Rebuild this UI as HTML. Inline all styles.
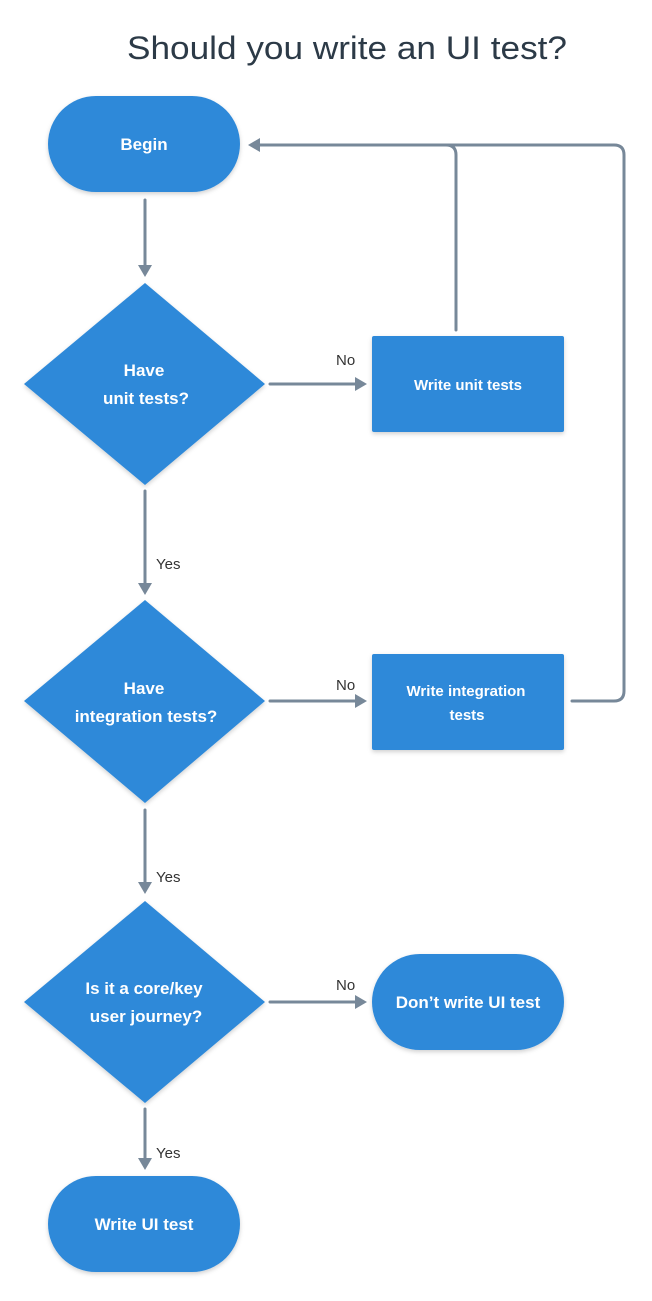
<!DOCTYPE html>
<html><head><meta charset="utf-8"><style>
html,body{margin:0;padding:0;background:#fff;}
svg text{font-family:"Liberation Sans",sans-serif;}
</style></head><body>
<svg width="652" height="1296" viewBox="0 0 652 1296" xmlns="http://www.w3.org/2000/svg">
<defs>
<filter id="sh" x="-10%" y="-10%" width="120%" height="130%"><feDropShadow dx="0" dy="2" stdDeviation="2" flood-color="#000" flood-opacity="0.18"/></filter>
</defs>
<text x="127" y="59" textLength="440" lengthAdjust="spacingAndGlyphs" font-size="32" fill="#2c3a47">Should you write  an UI test?</text>

<g fill="none" stroke="#778899" stroke-width="3" stroke-linecap="round">
<line x1="145" y1="200" x2="145" y2="266"/>
<line x1="270" y1="384" x2="356" y2="384"/>
<line x1="145" y1="491" x2="145" y2="584"/>
<line x1="270" y1="701" x2="356" y2="701"/>
<line x1="145" y1="810" x2="145" y2="883"/>
<line x1="270" y1="1002" x2="356" y2="1002"/>
<line x1="145" y1="1109" x2="145" y2="1159"/>
<path d="M456 330 V155 Q456 145 446 145 H260"/>
<path d="M572 701 H614 Q624 701 624 691 V155 Q624 145 614 145 H446"/>
</g>
<g fill="#778899">
<polygon points="138,265 152,265 145,277"/>
<polygon points="138,583 152,583 145,595"/>
<polygon points="138,882 152,882 145,894"/>
<polygon points="138,1158 152,1158 145,1170"/>
<polygon points="355,377 355,391 367,384"/>
<polygon points="355,694 355,708 367,701"/>
<polygon points="355,995 355,1009 367,1002"/>
<polygon points="260,138 260,152 248,145"/>
</g>

<g fill="#2e89d9" filter="url(#sh)">
<rect x="48" y="96" width="192" height="96" rx="48"/>
<polygon points="145,283 265,384 145,485 24,384"/>
<rect x="372" y="336" width="192" height="96" rx="2"/>
<polygon points="145,600 265,701 145,803 24,701"/>
<rect x="372" y="654" width="192" height="96" rx="2"/>
<polygon points="145,901 265,1002 145,1103 24,1002"/>
<rect x="372" y="954" width="192" height="96" rx="48"/>
<rect x="48" y="1176" width="192" height="96" rx="48"/>
</g>

<g fill="#fff" font-size="17" font-weight="bold" text-anchor="middle">
<text x="144" y="150">Begin</text>
<text x="144" y="376">Have</text>
<text x="146" y="404">unit tests?</text>
<text x="468" y="390" font-size="15">Write unit tests</text>
<text x="144" y="694">Have</text>
<text x="146" y="722">integration tests?</text>
<text x="466" y="696" font-size="15">Write integration</text>
<text x="467" y="720" font-size="15">tests</text>
<text x="144" y="994">Is it a core/key</text>
<text x="146" y="1022">user journey?</text>
<text x="468" y="1008">Don’t write UI test</text>
<text x="144" y="1230">Write UI test</text>
</g>
<g fill="#333" font-size="15">
<text x="336" y="365">No</text>
<text x="336" y="690">No</text>
<text x="336" y="990">No</text>
<text x="156" y="569">Yes</text>
<text x="156" y="882">Yes</text>
<text x="156" y="1158">Yes</text>
</g>
</svg>
</body></html>
